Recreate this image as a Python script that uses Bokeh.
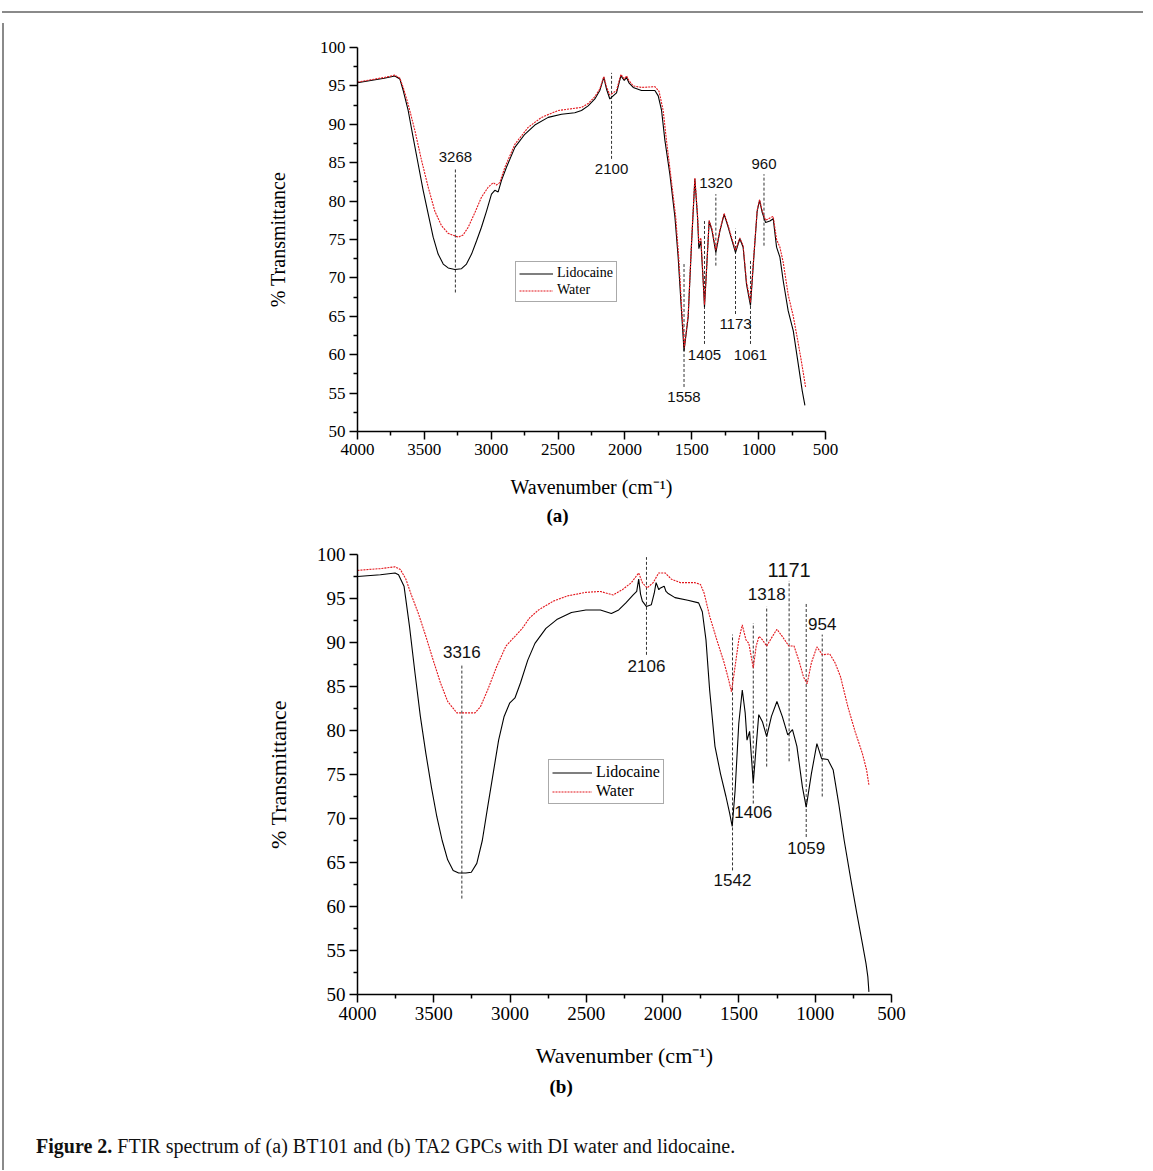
from bokeh.plotting import figure
from bokeh.models import Range1d, FixedTicker, Title, Div, ColumnDataSource
from bokeh.layouts import column, row
from bokeh.core.properties import value
from bokeh.embed import file_html
from bokeh.resources import INLINE

# ---------------- data ----------------
x_major = [4000, 3500, 3000, 2500, 2000, 1500, 1000, 500]
x_minor = [3750, 3250, 2750, 2250, 1750, 1250, 750]
y_major = [50, 55, 60, 65, 70, 75, 80, 85, 90, 95, 100]
y_minor = [52.5, 57.5, 62.5, 67.5, 72.5, 77.5, 82.5, 87.5, 92.5, 97.5]

# Panel (a) BT101
a_lido_wn = [4000, 3900, 3800, 3721, 3683, 3658, 3621, 3584, 3546, 3509,
             3471, 3434, 3397, 3359, 3322, 3272, 3222, 3185, 3147, 3110,
             3073, 3035, 2998, 2973, 2948, 2923, 2886, 2823, 2749, 2674,
             2574, 2474, 2375, 2325, 2275, 2225, 2188, 2158, 2138, 2113,
             2088, 2063, 2030, 2005, 1988, 1970, 1938, 1876, 1776, 1751,
             1726, 1701, 1664, 1626, 1602, 1577, 1558, 1527, 1502, 1477,
             1457, 1447, 1432, 1415, 1405, 1390, 1370, 1348, 1320, 1290,
             1258, 1228, 1198, 1173, 1141, 1116, 1091, 1061, 1036, 1011,
             993, 973, 948, 916, 891, 866, 841, 816, 779, 741,
             704, 674, 654]
a_lido_t = [95.4, 95.7, 96.0, 96.3, 95.9, 94.4, 91.8, 88.3, 84.8, 81.4,
            78.3, 75.3, 73.1, 71.8, 71.3, 71.1, 71.2, 71.8, 73.1, 74.8,
            76.6, 78.7, 80.9, 81.4, 81.2, 82.7, 84.4, 87.0, 88.7, 89.9,
            90.9, 91.3, 91.5, 91.8, 92.4, 93.3, 94.4, 96.1, 94.6, 93.3,
            93.7, 94.1, 96.3, 95.7, 96.1, 95.4, 94.8, 94.4, 94.4, 93.7,
            91.8, 87.9, 83.5, 77.9, 72.7, 65.7, 60.5, 64.9, 74.4, 82.9,
            77.9, 73.8, 74.8, 69.6, 66.2, 70.9, 77.4, 76.1, 73.3, 76.1,
            78.3, 76.6, 74.8, 73.3, 75.1, 74.0, 69.2, 66.4, 72.7, 78.7,
            80.1, 78.5, 77.2, 77.4, 77.7, 74.0, 72.7, 69.6, 65.7, 63.1,
            58.8, 55.3, 53.4]

a_water_wn = [4000, 3900, 3800, 3721, 3683, 3658, 3621, 3571, 3521, 3471,
              3422, 3372, 3322, 3247, 3210, 3172, 3122, 3073, 3023, 2985,
              2961, 2936, 2898, 2823, 2724, 2624, 2499, 2325, 2275, 2225,
              2188, 2158, 2138, 2113, 2088, 2063, 2030, 2005, 1988, 1970,
              1938, 1876, 1776, 1745, 1714, 1690, 1655, 1620, 1598, 1575,
              1556, 1527, 1502, 1477, 1457, 1447, 1432, 1415, 1405, 1390,
              1370, 1348, 1320, 1290, 1258, 1228, 1198, 1173, 1141, 1116,
              1091, 1061, 1036, 1011, 993, 973, 948, 916, 891, 866,
              841, 816, 779, 741, 704, 679, 649]
a_water_t = [95.5, 95.8, 96.1, 96.4, 96.0, 94.8, 92.6, 89.2, 85.3, 81.8,
             78.7, 76.8, 75.8, 75.3, 75.6, 76.6, 78.5, 80.5, 81.8, 82.4,
             82.1, 82.4, 84.4, 87.4, 89.6, 90.9, 91.8, 92.2, 92.7, 93.6,
             94.6, 96.2, 94.9, 93.8, 94.1, 94.4, 96.5, 95.9, 96.3, 95.7,
             95.0, 94.8, 94.9, 94.3, 91.8, 88.0, 83.0, 77.9, 72.7, 65.9,
             60.9, 65.2, 74.6, 83.0, 78.2, 74.5, 75.2, 69.8, 66.5, 71.0,
             77.5, 76.3, 73.6, 76.2, 78.4, 76.8, 75.0, 73.6, 75.2, 74.2,
             69.5, 66.8, 72.9, 78.8, 80.2, 78.7, 77.5, 77.8, 78.0, 75.0,
             74.0, 72.0, 67.8, 65.0, 61.5, 59.0, 55.8]

a_peaks = [3268, 2100, 1558, 1405, 1320, 1173, 1061, 960]
a_peak_lo = [68.1, 85.5, 55.8, 61.4, 71.6, 65.3, 61.4, 74.2]
a_peak_hi = [84.2, 96.7, 71.8, 77.4, 80.9, 76.4, 72.3, 83.5]
a_peak_label_t = [85.7, 84.2, 54.5, 60.0, 82.3, 64.0, 60.0, 84.8]
a_peak_text = ["3268", "2100", "1558", "1405", "1320", "1173", "1061", "960"]

# Panel (b) TA2
b_lido_wn = [4000, 3850, 3754, 3731, 3695, 3659, 3623, 3588, 3552, 3516,
             3480, 3445, 3409, 3373, 3337, 3290, 3254, 3218, 3182, 3147,
             3111, 3075, 3039, 3003, 2968, 2932, 2884, 2837, 2765, 2694,
             2598, 2503, 2408, 2336, 2288, 2241, 2193, 2170, 2157, 2145,
             2133, 2107, 2074, 2055, 2043, 2025, 2014, 1990, 1978, 1966,
             1919, 1835, 1764, 1740, 1716, 1692, 1657, 1621, 1585, 1561,
             1544, 1525, 1501, 1478, 1459, 1447, 1430, 1406, 1387, 1370,
             1346, 1318, 1287, 1251, 1216, 1180, 1149, 1120, 1084, 1059,
             1025, 989, 958, 917, 882, 846, 810, 762, 727, 691,
             667, 655, 648]
b_lido_t = [97.5, 97.7, 97.9, 97.7, 96.4, 91.8, 86.5, 81.6, 77.4, 73.6,
            70.2, 67.5, 65.3, 64.1, 63.8, 63.8, 63.9, 64.9, 67.5, 71.3,
            75.1, 78.9, 81.6, 83.1, 83.7, 85.4, 88.0, 89.9, 91.6, 92.6,
            93.4, 93.7, 93.7, 93.3, 93.7, 94.5, 95.4, 95.8, 97.2, 95.5,
            94.7, 94.1, 94.3, 95.6, 96.8, 96.0, 96.2, 96.4, 95.8, 95.6,
            95.1, 94.8, 94.5, 93.5, 90.3, 84.6, 78.2, 75.1, 72.5, 70.6,
            69.1, 73.2, 80.8, 84.6, 82.0, 78.9, 79.9, 74.0, 78.2, 81.8,
            81.0, 79.3, 81.6, 83.3, 81.6, 79.5, 80.1, 78.2, 73.6, 71.3,
            75.1, 78.5, 76.8, 76.7, 75.5, 71.7, 67.5, 62.6, 59.2, 55.8,
            53.5, 52.0, 50.3]

b_water_wn = [4000, 3850, 3754, 3719, 3683, 3647, 3599, 3552, 3504, 3456,
              3409, 3349, 3290, 3230, 3194, 3147, 3087, 3027, 2968, 2920,
              2872, 2813, 2717, 2622, 2503, 2408, 2324, 2264, 2205, 2157,
              2133, 2102, 2062, 2026, 1983, 1943, 1883, 1788, 1752, 1728,
              1692, 1645, 1597, 1568, 1549, 1525, 1501, 1478, 1454, 1435,
              1406, 1387, 1368, 1346, 1318, 1287, 1251, 1216, 1173, 1139,
              1108, 1077, 1053, 1025, 989, 953, 905, 870, 834, 786,
              739, 691, 663, 648]
b_water_t = [98.2, 98.4, 98.6, 98.3, 97.2, 95.4, 93.2, 90.7, 88.0, 85.4,
             83.3, 82.0, 82.0, 82.0, 82.7, 84.6, 87.3, 89.6, 90.7, 91.6,
             92.8, 93.7, 94.7, 95.3, 95.7, 95.8, 95.4, 96.0, 96.8, 97.9,
             96.8, 96.2, 96.8, 97.9, 97.9, 97.2, 96.8, 96.8, 96.6, 95.6,
             93.0, 90.3, 87.7, 85.8, 84.4, 87.3, 90.3, 92.0, 90.3, 89.9,
             87.1, 89.6, 90.7, 90.3, 89.6, 90.5, 91.5, 90.7, 89.6, 89.6,
             88.0, 86.1, 85.3, 87.7, 89.5, 88.6, 88.7, 87.7, 86.1, 82.7,
             79.9, 77.4, 75.5, 73.8]

b_peaks = [3316, 2106, 1542, 1406, 1318, 1171, 1059, 954]
b_peak_lo = [60.9, 88.6, 64.1, 71.7, 75.9, 76.5, 67.9, 72.5]
b_peak_hi = [87.5, 99.7, 90.9, 92.2, 94.1, 97.0, 94.5, 90.9]
b_peak_label_t = [88.9, 87.3, 63.0, 70.7, 95.5, 98.2, 66.6, 92.1]
b_peak_text = ["3316", "2106", "1542", "1406", "1318", "1171", "1059", "954"]
b_peak_size = ["17px", "17px", "17px", "17px", "17px", "20px", "17px", "17px"]

series_names = ["Lidocaine", "Water"]
panel_tags = ["(a)", "(b)"]
caption_bold = "Figure 2."
caption_rest = " FTIR spectrum of (a) BT101 and (b) TA2 GPCs with DI water and lidocaine."

assert len(a_lido_wn) == len(a_lido_t)
assert len(a_water_wn) == len(a_water_t)
assert len(b_lido_wn) == len(b_lido_t)
assert len(b_water_wn) == len(b_water_t)

SERIF = "Liberation Serif"
SANS = "Liberation Sans"
RED = "#e3161c"


def make_panel(width, height, mb, tick_fs, title_fs, xstand, ystand, lido, water,
               peaks, lo, hi, lab_t, texts, sizes, legend_loc, leg_fs, leg_h, leg_gw,
               tag, tag_offset, tag_stand):
    p = figure(width=width, height=height,
               x_range=Range1d(4000, 500), y_range=Range1d(50, 100),
               output_backend="svg", toolbar_location=None,
               min_border_left=mb[0], min_border_right=mb[1],
               min_border_top=mb[2], min_border_bottom=mb[3])
    p.outline_line_color = None
    p.xgrid.visible = False
    p.ygrid.visible = False
    p.xaxis.ticker = FixedTicker(ticks=x_major, minor_ticks=x_minor)
    p.yaxis.ticker = FixedTicker(ticks=y_major, minor_ticks=y_minor)
    p.xaxis.axis_label = "Wavenumber (cm\u207b\u00b9)"
    p.yaxis.axis_label = "% Transmittance"
    for ax in (p.xaxis[0], p.yaxis[0]):
        ax.axis_line_width = 1.5
        ax.axis_line_color = "black"
        ax.major_tick_line_width = 1.5
        ax.minor_tick_line_width = 1.5
        ax.major_tick_line_color = "black"
        ax.minor_tick_line_color = "black"
        ax.major_tick_out = 8
        ax.major_tick_in = 0
        ax.minor_tick_out = 4
        ax.minor_tick_in = 0
        ax.major_label_text_font = SERIF
        ax.major_label_text_font_size = tick_fs
        ax.major_label_text_color = "black"
        ax.major_label_standoff = 4
        ax.axis_label_text_font = SERIF
        ax.axis_label_text_font_style = "normal"
        ax.axis_label_text_font_size = title_fs
        ax.axis_label_text_color = "black"
    p.xaxis.axis_label_standoff = xstand
    p.yaxis.axis_label_standoff = ystand

    # annotation dashed lines and numbers
    src = ColumnDataSource(dict(x=peaks, y0=lo, y1=hi, ty=lab_t, text=texts, size=sizes))
    p.segment(x0="x", y0="y0", x1="x", y1="y1", source=src,
              line_color="#333333", line_width=1, line_dash="3 2")
    p.text(x="x", y="ty", text="text", source=src, text_font=value(SANS),
           text_font_size="size", text_align="center", text_baseline="middle",
           text_color="#111111")

    p.line(lido[0], lido[1], line_color="black", line_width=1.1, legend_label=series_names[0])
    p.line(water[0], water[1], line_color=RED, line_width=1.1, line_dash="2 1",
           legend_label=series_names[1])

    lg = p.legend[0]
    lg.location = legend_loc
    lg.label_text_font = SERIF
    lg.label_text_font_size = leg_fs
    lg.label_text_color = "black"
    lg.label_height = leg_h
    lg.glyph_height = leg_h
    lg.glyph_width = leg_gw
    lg.label_standoff = 4
    lg.padding = 3
    lg.spacing = 1
    lg.margin = 0
    lg.border_line_color = "#555555"
    lg.border_line_width = 1
    lg.background_fill_alpha = 1

    p.add_layout(Title(text=tag, align="left", offset=tag_offset, text_font=SERIF,
                       text_font_style="bold", text_font_size="19px",
                       text_color="black", standoff=tag_stand), "below")
    return p


fig_a = make_panel(1139, 519, (348, 323, 29, 106), "17px", "20px", 18, 28,
                   (a_lido_wn, a_lido_t), (a_water_wn, a_water_t),
                   a_peaks, a_peak_lo, a_peak_hi, a_peak_label_t, a_peak_text,
                   ["15px"] * len(a_peaks), (158, 129), "14px", 13, 34,
                   panel_tags[0], 189, 4)

fig_b = make_panel(1139, 580, (348, 257, 17, 123), "19px", "22px", 20, 23,
                   (b_lido_wn, b_lido_t), (b_water_wn, b_water_t),
                   b_peaks, b_peak_lo, b_peak_hi, b_peak_label_t, b_peak_text,
                   b_peak_size, (191, 190), "16px", 15, 40,
                   panel_tags[1], 192, 6)

caption = Div(width=1139, height=48,
              text=('<div style="padding-top:10px;padding-left:22px;font-family:\'Liberation Serif\';'
                    'font-size:20px;color:#111;white-space:nowrap;">'
                    '<b>' + caption_bold + '</b>' + caption_rest + '</div>'))

hline = Div(width=1141, height=2, styles={"background-color": "#8a8a8a"})
vline = Div(width=2, height=1147, styles={"background-color": "#8a8a8a"})

inner = column(row(fig_a), row(fig_b), caption, spacing=0)
outer = column(hline, row(vline, inner, spacing=0), spacing=0, margin=(6, 0, 0, -3))

open("out.html", "w").write(file_html(outer, INLINE))
